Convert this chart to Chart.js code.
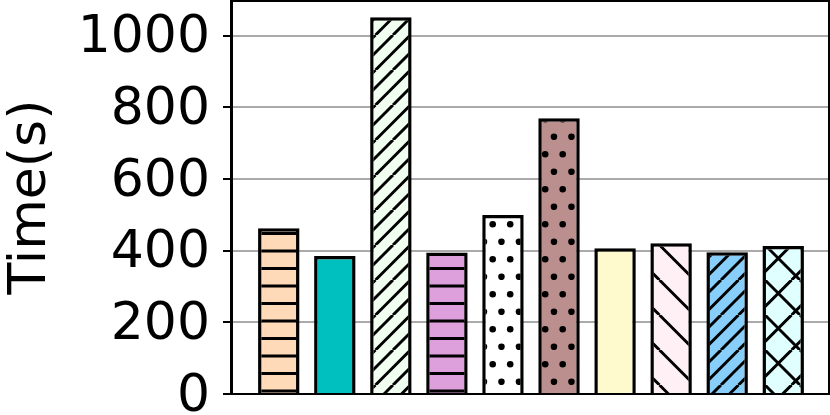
<!DOCTYPE html>
<html lang="en">
<head>
    <meta charset="UTF-8">
    <title>Time per run</title>
    <script src="https://cdn.jsdelivr.net/npm/chart.js"></script>
    <style>
        body {
            margin: 0;
            background: #fff;
        }

        .chart-box {
            position: relative;
            width: 830px;
            height: 415px;
        }
    </style>
</head>
<body>
    <div class="chart-box">
        <canvas id="timeChart"></canvas>
    </div>

    <script>
        // Data
        const runs = [0, 1, 2, 3, 4, 5, 6, 7, 8, 9];
        const times = [463, 385, 1052, 395, 500, 770, 407, 421, 396, 413];
        const yTicks = [0, 200, 400, 600, 800, 1000];

        // Bar look: fill colour + hatch
        const fills = ['#ffdab9', '#00bfbf', '#f0fff0', '#dda0dd', '#ffffff',
                       '#bc8f8f', '#fffacd', '#fff0f5', '#87cefa', '#e0ffff'];
        const hatches = [
            { kind: '-', c: 6 },
            null,
            { kind: '/', c: 8 },
            { kind: '-', c: 6 },
            { kind: '.' },
            { kind: '.' },
            null,
            { kind: '\\', c: 29.5 },
            { kind: '/', c: 3.5 },
            { kind: 'x', a: 21.6, b: 30 }
        ];

        const TILE = 35;
        const GAP = 17.5;

        function hatchFill(color, h) {
            if (!h) return color;
            const c = document.createElement('canvas');
            c.width = c.height = TILE;
            const g = c.getContext('2d');
            g.fillStyle = color;
            g.fillRect(0, 0, TILE, TILE);
            g.strokeStyle = '#000';
            g.fillStyle = '#000';
            g.lineWidth = 3;
            g.beginPath();
            if (h.kind === '-') {
                g.moveTo(0, h.c); g.lineTo(TILE, h.c);
                g.moveTo(0, h.c + 17.5); g.lineTo(TILE, h.c + 17.5);
            }
            if (h.kind === '/') {
                for (let k = -3; k <= 6; k++) {
                    const c0 = h.c + k * GAP;
                    g.moveTo(c0, 0); g.lineTo(c0 - TILE, TILE);
                }
            }
            if (h.kind === '\\' || h.kind === 'x') {
                const b = h.kind === 'x' ? h.b : h.c;
                for (let k = -2; k <= 2; k++) {
                    const c0 = b + k * TILE;
                    g.moveTo(c0, 0); g.lineTo(c0 + TILE, TILE);
                }
            }
            if (h.kind === 'x') {
                for (let k = -2; k <= 3; k++) {
                    const c0 = h.a + k * TILE;
                    g.moveTo(c0, 0); g.lineTo(c0 - TILE, TILE);
                }
            }
            g.stroke();
            if (h.kind === '.') {
                const pts = [[2.7, 14.3], [20.2, 14.3], [11.45, 31.8], [28.95, 31.8]];
                pts.forEach(([px, py]) => {
                    for (let dx = -TILE; dx <= TILE; dx += TILE) {
                        for (let dy = -TILE; dy <= TILE; dy += TILE) {
                            g.beginPath();
                            g.arc(px + dx, py + dy, 3.3, 0, Math.PI * 2);
                            g.fill();
                        }
                    }
                });
            }
            return g.createPattern(c, 'repeat');
        }

        // black box round the plot area
        const framePlugin = {
            id: 'frame',
            afterDatasetsDraw(chart) {
                const { ctx, chartArea: a } = chart;
                ctx.save();
                ctx.strokeStyle = '#000';
                ctx.lineWidth = 2;
                ctx.strokeRect(a.left - 1, a.top + 1, a.right - a.left, a.bottom - a.top - 1);
                ctx.restore();
            }
        };

        const ctx = document.getElementById('timeChart').getContext('2d');

        new Chart(ctx, {
            type: 'bar',
            data: {
                datasets: [{
                    data: runs.map((x, i) => ({ x: x, y: times[i] })),
                    backgroundColor: fills.map((f, i) => hatchFill(f, hatches[i])),
                    borderColor: '#000',
                    borderWidth: 3.5,
                    borderSkipped: 'start',
                    inflateAmount: 0,
                    barPercentage: 0.74,
                    categoryPercentage: 1
                }]
            },
            options: {
                responsive: true,
                maintainAspectRatio: false,
                animation: false,
                layout: { padding: 0 },
                plugins: {
                    legend: { display: false },
                    tooltip: { enabled: false }
                },
                scales: {
                    x: {
                        type: 'linear',
                        min: -0.835,
                        max: 9.835,
                        offset: false,
                        grid: { display: false, drawTicks: false },
                        ticks: { display: false },
                        border: { display: true, color: '#000', width: 2 },
                        afterFit: s => {
                            s.height = 21;
                            s.paddingLeft = 0;
                            s.paddingRight = 0;
                        }
                    },
                    y: {
                        min: 0,
                        max: 1100,
                        afterBuildTicks: s => {
                            s.ticks = yTicks.map(v => ({ value: v }));
                        },
                        grid: {
                            color: '#aaaaaa',
                            lineWidth: 2,
                            tickColor: '#000',
                            tickLength: 9,
                            tickWidth: 2
                        },
                        border: { color: '#000', width: 2 },
                        ticks: {
                            color: '#000',
                            font: { family: 'DejaVu Sans', size: 52 },
                            padding: 13,
                            labelOffset: 3,
                            callback: v => String(v)
                        },
                        title: {
                            display: true,
                            text: 'Time(s)',
                            color: '#000',
                            font: { family: 'DejaVu Sans', size: 52, lineHeight: 1 },
                            padding: { top: 5, bottom: 0 }
                        },
                        afterFit: s => {
                            s.width = 232;
                            s.paddingTop = 0;
                            s.paddingBottom = 0;
                        }
                    }
                }
            },
            plugins: [framePlugin]
        });
    </script>
</body>
</html>
